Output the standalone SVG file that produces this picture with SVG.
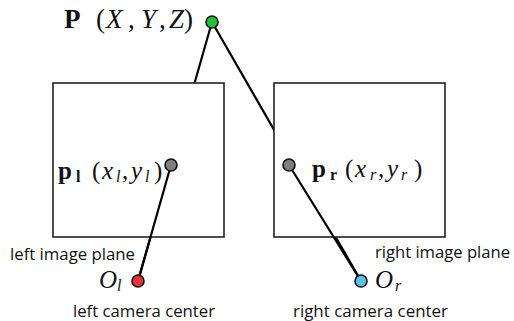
<svg xmlns="http://www.w3.org/2000/svg" width="514" height="321" viewBox="0 0 514 321">
<style>
.ray{stroke:#000;stroke-width:2.2;fill:none;stroke-linecap:round}
.plane{fill:#fff;stroke:#222;stroke-width:1.6}
.pt{stroke:#111;stroke-width:1.6}
.math{font-family:"Liberation Serif","DejaVu Serif",serif;fill:#111}
.it{font-style:italic}
.bf{font-weight:bold}
.sub{font-size:16px}
.lbl{font-family:"Open Sans","Liberation Sans",sans-serif;font-size:16px;fill:#111}
</style>
<g id="connectors-back">
<line class="ray" x1="212" y1="22" x2="138" y2="281"/>
<line class="ray" x1="212" y1="22" x2="361" y2="281"/>
</g>
<g id="left-plane"><rect class="plane" x="53" y="83" width="171" height="154"/></g>
<g id="right-plane"><rect class="plane" x="274" y="83" width="171" height="154"/></g>
<g id="connectors">
<line class="ray" x1="171" y1="165" x2="138" y2="281"/>
<line class="ray" x1="289" y1="165" x2="361" y2="281"/>
</g>
<g id="P">
<circle class="pt" cx="212" cy="22" r="6" fill="#1fc23a"/>
<text class="math" y="28" font-size="27"><tspan class="bf" x="64">P</tspan><tspan x="96">(</tspan><tspan class="it" x="106">X</tspan><tspan x="128">,</tspan><tspan class="it" x="141">Y</tspan><tspan x="159">,</tspan><tspan class="it" x="169">Z</tspan><tspan x="184">)</tspan></text>
</g>
<g id="pl">
<circle class="pt" cx="171" cy="165" r="6" fill="#7f7f7f"/>
<text class="math" y="179" font-size="25"><tspan class="bf" x="58">p</tspan><tspan class="bf sub" x="76" dy="3">l</tspan><tspan x="92" dy="-3">(</tspan><tspan class="it" x="102">x</tspan><tspan class="it sub" x="116" dy="3">l</tspan><tspan x="122" dy="-3">,</tspan><tspan class="it" x="131">y</tspan><tspan class="it sub" x="145" dy="3">l</tspan><tspan x="154" dy="-3">)</tspan></text>
</g>
<g id="pr">
<circle class="pt" cx="289" cy="165" r="6" fill="#7f7f7f"/>
<text class="math" y="177" font-size="25"><tspan class="bf" x="312">p</tspan><tspan class="bf sub" x="330" dy="3">r</tspan><tspan x="345" dy="-3">(</tspan><tspan class="it" x="355">x</tspan><tspan class="it sub" x="370" dy="3">r</tspan><tspan x="378" dy="-3">,</tspan><tspan class="it" x="387">y</tspan><tspan class="it sub" x="401" dy="3">r</tspan><tspan x="414" dy="-3">)</tspan></text>
</g>
<g id="Ol">
<circle class="pt" cx="138" cy="281" r="6" fill="#e8333b"/>
<text class="math it" y="288" font-size="25"><tspan x="99">O</tspan><tspan class="sub" x="117" dy="3">l</tspan></text>
</g>
<g id="Or">
<circle class="pt" cx="361" cy="281" r="6" fill="#5bc3ea"/>
<text class="math it" y="288" font-size="25"><tspan x="375">O</tspan><tspan class="sub" x="395" dy="3">r</tspan></text>
</g>
<g id="labels">
<text class="lbl" x="10" y="260" textLength="125" lengthAdjust="spacingAndGlyphs">left image plane</text>
<text class="lbl" x="375" y="258" textLength="135" lengthAdjust="spacingAndGlyphs">right image plane</text>
<text class="lbl" x="73" y="317" textLength="142" lengthAdjust="spacingAndGlyphs">left camera center</text>
<text class="lbl" x="293" y="317" textLength="155" lengthAdjust="spacingAndGlyphs">right camera center</text>
</g>
</svg>
